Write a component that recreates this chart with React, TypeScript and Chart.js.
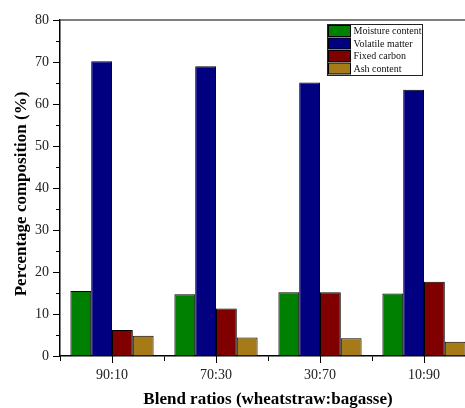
import React, { useEffect, useRef } from "react";
import { Chart, registerables } from "chart.js";

Chart.register(...registerables);

const categories = ["90:10", "70:30", "30:70", "10:90"];
const seriesLabels = ["Moisture content", "Volatile matter", "Fixed carbon", "Ash content"];
const moisture = [15.5, 14.7, 15.2, 14.9];
const volatile = [70.2, 69.0, 65.1, 63.4];
const fixedCarbon = [6.2, 11.3, 15.2, 17.7];
const ash = [4.8, 4.4, 4.2, 3.4];
const colors = ["#008000", "#000080", "#800000", "#A67A17"];
const yMinorTicks = [5, 15, 25, 35, 45, 55, 65, 75];
const yTitle = "Percentage composition (%)";

const FONT = "'Liberation Serif', 'Times New Roman', serif";

const extrasPlugin = {
  id: "extras",
  afterDraw(chart: any) {
    const { ctx, chartArea, scales } = chart;
    const x = scales.x;
    const y = scales.y;
    ctx.save();
    // top frame line
    ctx.strokeStyle = "#555";
    ctx.lineWidth = 1.5;
    ctx.beginPath();
    ctx.moveTo(chartArea.left, chartArea.top);
    ctx.lineTo(chartArea.right, chartArea.top);
    ctx.lineTo(chartArea.right, chartArea.bottom);
    ctx.stroke();
    // minor y ticks
    ctx.strokeStyle = "#000";
    ctx.lineWidth = 1;
    ctx.beginPath();
    yMinorTicks.forEach((v) => {
      const py = Math.round(y.getPixelForValue(v)) + 0.5;
      ctx.moveTo(chartArea.left - 4, py);
      ctx.lineTo(chartArea.left, py);
    });
    // center ticks on x
    categories.forEach((_, i) => {
      const px = Math.round(x.getPixelForValue(i)) + 0.5;
      ctx.moveTo(px, chartArea.bottom);
      ctx.lineTo(px, chartArea.bottom + 7);
    });
    ctx.stroke();

    // y axis title (slightly below the plot centre, as in the reference)
    ctx.save();
    ctx.translate(22, (chartArea.top + chartArea.bottom) / 2 + 6);
    ctx.rotate(-Math.PI / 2);
    ctx.font = `bold 17px ${FONT}`;
    ctx.fillStyle = "#000";
    ctx.textAlign = "center";
    ctx.textBaseline = "middle";
    ctx.fillText(yTitle, 0, 0);
    ctx.restore();

    // legend
    const lx = 327.5;
    const ly = 24.5;
    const lw = 95;
    const rowH = 12.5;
    const lh = rowH * 4 + 1;
    ctx.fillStyle = "#fff";
    ctx.fillRect(lx, ly, lw, lh);
    ctx.strokeStyle = "#222";
    ctx.lineWidth = 1;
    ctx.strokeRect(lx, ly, lw, lh);
    ctx.font = `10px ${FONT}`;
    ctx.textBaseline = "middle";
    ctx.textAlign = "left";
    chart.data.datasets.forEach((ds: any, i: number) => {
      const ry = ly + 1 + i * rowH;
      ctx.fillStyle = ds.backgroundColor;
      ctx.fillRect(lx + 1, ry, 22, rowH - 1.5);
      ctx.strokeStyle = "#000";
      ctx.strokeRect(lx + 1, ry, 22, rowH - 1.5);
      ctx.fillStyle = "#111";
      ctx.fillText(ds.label, lx + 26, ry + rowH / 2);
    });
    ctx.restore();
  },
};

export default function App() {
  const ref = useRef<HTMLCanvasElement | null>(null);
  useEffect(() => {
    if (!ref.current) return;
    const values = [moisture, volatile, fixedCarbon, ash];
    const chart = new Chart(ref.current, {
      type: "bar",
      data: {
        labels: categories,
        datasets: seriesLabels.map((label, i) => ({
          label,
          data: values[i],
          backgroundColor: colors[i],
          borderColor: "#000",
          borderWidth: 1,
          categoryPercentage: 0.8,
          barPercentage: 1.0,
        })),
      },
      options: {
        responsive: false,
        animation: false,
        devicePixelRatio: 1,
        layout: { padding: { top: 20, right: 24, left: 0, bottom: 0 } },
        plugins: {
          legend: { display: false },
          tooltip: { enabled: false },
        },
        scales: {
          x: {
            grid: {
              offset: true,
              drawOnChartArea: false,
              drawTicks: true,
              tickLength: 5,
              color: "#000",
              lineWidth: 1,
            },
            border: { display: true, color: "#000", width: 1.5 },
            ticks: {
              color: "#222",
              font: { family: FONT, size: 14 },
              padding: 6,
              maxRotation: 0,
            },
            title: {
              display: true,
              text: "Blend ratios (wheatstraw:bagasse)",
              color: "#000",
              font: { family: FONT, size: 17, weight: "bold", lineHeight: 1 },
              padding: { top: 0, bottom: 0 },
            },
            afterFit(scale: any) {
              scale.height = 52;
            },
          },
          y: {
            min: 0,
            max: 80,
            grid: {
              drawOnChartArea: false,
              drawTicks: true,
              tickLength: 7,
              color: "#000",
              lineWidth: 1,
            },
            border: { display: true, color: "#000", width: 1.5 },
            ticks: {
              stepSize: 10,
              color: "#222",
              font: { family: FONT, size: 14 },
              padding: 4,
            },
            title: { display: false },
            afterFit(scale: any) {
              scale.width = 60;
            },
          },
        },
      },
      plugins: [extrasPlugin],
    });
    return () => chart.destroy();
  }, []);

  return (
    <div
      style={{
        position: "fixed",
        left: 0,
        top: 0,
        width: 465,
        height: 408,
        overflow: "hidden",
        background: "#fff",
      }}
    >
      <canvas ref={ref} width={500} height={408} style={{ display: "block", width: 500, height: 408 }} />
    </div>
  );
}
